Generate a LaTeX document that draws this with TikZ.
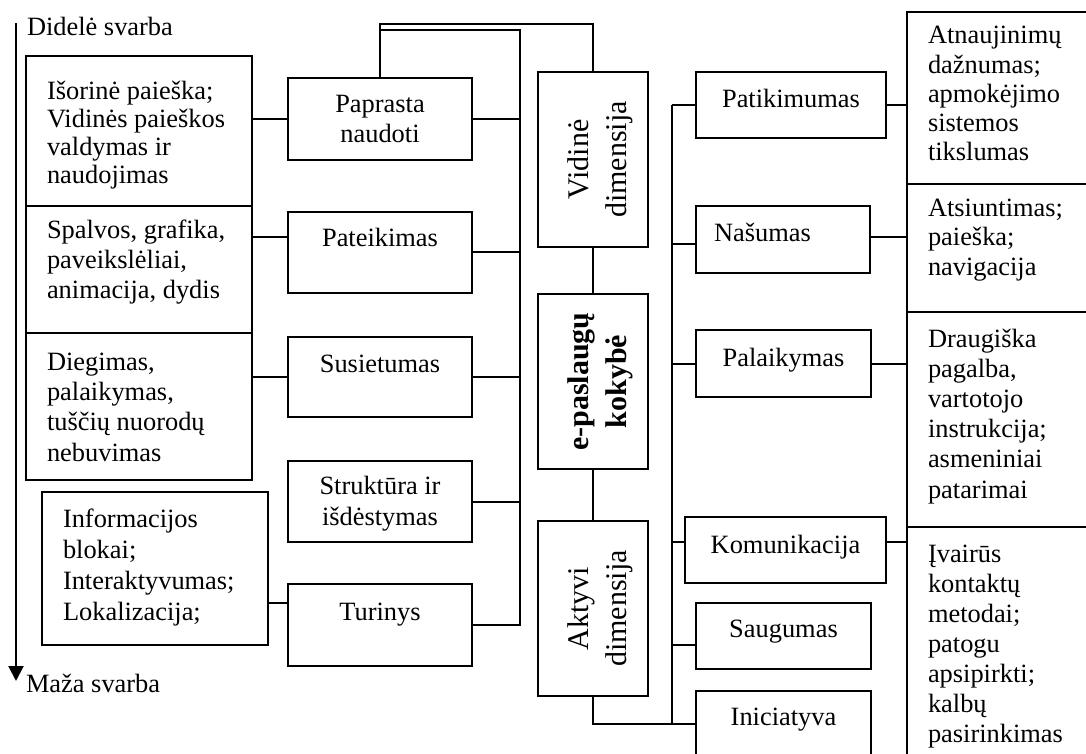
\documentclass[tikz,border=0pt]{standalone}
\usepackage{fontspec}
\setmainfont{Liberation Serif}
\usetikzlibrary{fit,arrows.meta}
% lines of text with a given baseline distance
\newcommand\lns[3][l]{{\fontsize{13.2}{#2}\selectfont\begin{tabular}[t]{@{}#1@{}}#3\end{tabular}}}
% larger text for the vertical boxes
\newcommand\rlns[1]{{\fontsize{15}{19.2}\selectfont\begin{tabular}[t]{@{}c@{}}#1\end{tabular}}}
\begin{document}
\begin{tikzpicture}[x=0.5pt,y=-0.5pt,line width=1pt,
  box/.style={draw,rectangle,inner sep=0pt,outer sep=0pt},
  txt/.style={inner sep=0pt,outer sep=0pt}]
\useasboundingbox (0,0) rectangle (1086,754);
\clip (0,0) rectangle (1086,754);

% importance axis
\coordinate (axTop) at (16,23);
\coordinate (axBot) at (16,681);
\draw[-{Triangle[length=7.5pt,width=7.5pt]}] (axTop) -- (axBot);
\node[txt,anchor=base west] (hi) at (27,36) {\lns{15}{Didelė svarba}};
\node[txt,anchor=base west] (lo) at (26,692) {\lns{15}{Maža svarba}};

% left column: criteria
\node[box,fit={(26,56)(252,206)}] (L1) {};
\node[box,fit={(26,206)(252,333)}] (L2) {};
\node[box,fit={(26,333)(252,480)}] (L3) {};
\node[box,fit={(42,492)(268,645)}] (L4) {};
\node[txt,anchor=base west] (L1t) at (47,100) {\lns{13.85}{Išorinė paieška;\\Vidinės paieškos\\valdymas ir\\naudojimas}};
\node[txt,anchor=base west] (L2t) at (47,239) {\lns{15}{Spalvos, grafika,\\paveikslėliai,\\animacija, dydis}};
\node[txt,anchor=base west] (L3t) at (47,370) {\lns{15.2}{Diegimas,\\palaikymas,\\tuščių nuorodų\\nebuvimas}};
\node[txt,anchor=base west] (L4t) at (63,527) {\lns{15.5}{Informacijos\\blokai;\\Interaktyvumas;\\Lokalizacija;}};

% second column: inner-dimension factors
\node[box,fit={(288,78)(472,160)}] (M1) {};
\node[box,fit={(288,212)(472,293)}] (M2) {};
\node[box,fit={(288,337)(472,417)}] (M3) {};
\node[box,fit={(288,461)(472,542)}] (M4) {};
\node[box,fit={(288,584)(472,666)}] (M5) {};
\node[txt,anchor=base] (M1t) at (380,113) {\lns[c]{15}{Paprasta\\naudoti}};
\node[txt,anchor=base] (M2t) at (380,247) {\lns[c]{15}{Pateikimas}};
\node[txt,anchor=base] (M3t) at (380,372) {\lns[c]{15}{Susietumas}};
\node[txt,anchor=base] (M4t) at (380,494) {\lns[c]{15.8}{Struktūra ir\\išdėstymas}};
\node[txt,anchor=base] (M5t) at (380,620) {\lns[c]{15}{Turinys}};

% centre column
\node[box,fit={(538,72)(648,247)}] (V) {};
\node[box,fit={(538,294)(648,469)}] (E) {};
\node[box,fit={(538,521)(648,696)}] (A) {};
\node[txt,rotate=90,anchor=base] (Vt) at (588,159.5) {\rlns{Vidinė\\dimensija}};
\node[txt,rotate=90,anchor=base] (Et) at (588,381.5) {\bfseries\rlns{e-paslaugų\\kokybė}};
\node[txt,rotate=90,anchor=base] (At) at (588,608.5) {\rlns{Aktyvi\\dimensija}};

% fourth column: active-dimension factors
\node[box,fit={(696,72)(886,138)}] (P) {};
\node[box,fit={(696,206)(870,273)}] (N) {};
\node[box,fit={(696,330)(871,397)}] (Pa) {};
\node[box,fit={(685,517)(886,583)}] (K) {};
\node[box,fit={(696,603)(871,669)}] (S) {};
\node[box,fit={(696,691)(871,790)}] (I) {};
\node[txt,anchor=base] (Pt) at (791,108) {\lns[c]{15}{Patikimumas}};
\node[txt,anchor=base west] (Nt) at (714,242) {\lns{15}{Našumas}};
\node[txt,anchor=base] (Pat) at (783.5,366) {\lns[c]{15}{Palaikymas}};
\node[txt,anchor=base] (Kt) at (785.5,553) {\lns[c]{15}{Komunikacija}};
\node[txt,anchor=base] (St) at (783.5,637) {\lns[c]{15}{Saugumas}};
\node[txt,anchor=base] (It) at (783.5,725) {\lns[c]{15}{Iniciatyva}};

% right column: details
\node[box,fit={(907,12)(1120,184)}] (R1) {};
\node[box,fit={(907,184)(1120,312)}] (R2) {};
\node[box,fit={(907,312)(1120,527)}] (R3) {};
\node[box,fit={(907,527)(1120,790)}] (R4) {};
\node[txt,anchor=base west] (R1t) at (928,44) {\lns{14.6}{Atnaujinimų\\dažnumas;\\apmokėjimo\\sistemos\\tikslumas}};
\node[txt,anchor=base west] (R2t) at (928,217) {\lns{14.5}{Atsiuntimas;\\paieška;\\navigacija}};
\node[txt,anchor=base west] (R3t) at (928,347) {\lns{15.1}{Draugiška\\pagalba,\\vartotojo\\instrukcija;\\asmeniniai\\patarimai}};
\node[txt,anchor=base west] (R4t) at (928,562) {\lns{15}{Įvairūs\\kontaktų\\metodai;\\patogu\\apsipirkti;\\kalbų\\pasirinkimas}};

% connectors: criteria to factors
\draw (L1.east |- M1.west) -- (M1.west);
\draw (L2.east |- 0,237) -- (M2.west |- 0,237);
\draw (L3.east |- M3.west) -- (M3.west);
\draw (L4.east |- 0,603) -- (M5.west |- 0,603);

% bus joining the inner-dimension factors
\coordinate (busx) at (520,0);
\draw (M1.north) -- (M1.north |- 0,24) -- (V.north |- 0,24) -- (V.north);
\draw (M1.north |- 0,30) -| (busx |- M5.east) -- (M5.east);
\foreach \m in {M1,M2,M3,M4} \draw (\m.east) -- (busx |- \m.east);

% centre chain
\draw (V.south) -- (E.north);
\draw (E.south) -- (A.north);
\draw (A.south) |- (I.west |- 0,724);

% bus joining the active-dimension factors
\coordinate (rbus) at (672,0);
\draw (rbus |- P.west) -- (P.west);
\draw (rbus |- P.west) -- (rbus |- 0,724);
\draw (rbus |- 0,244) -- (N.west |- 0,244);
\draw (rbus |- Pa.west) -- (Pa.west);
\draw (rbus |- 0,542) -- (K.west |- 0,542);
\draw (rbus |- 0,645) -- (S.west |- 0,645);

% factors to details
\coordinate (rcol) at (907,0);
\draw (P.east) -- (rcol |- P.east);
\draw (N.east |- 0,237) -- (rcol |- 0,237);
\draw (Pa.east) -- (rcol |- Pa.east);
\draw (K.east |- 0,542) -- (rcol |- 0,542);
\end{tikzpicture}
\end{document}
